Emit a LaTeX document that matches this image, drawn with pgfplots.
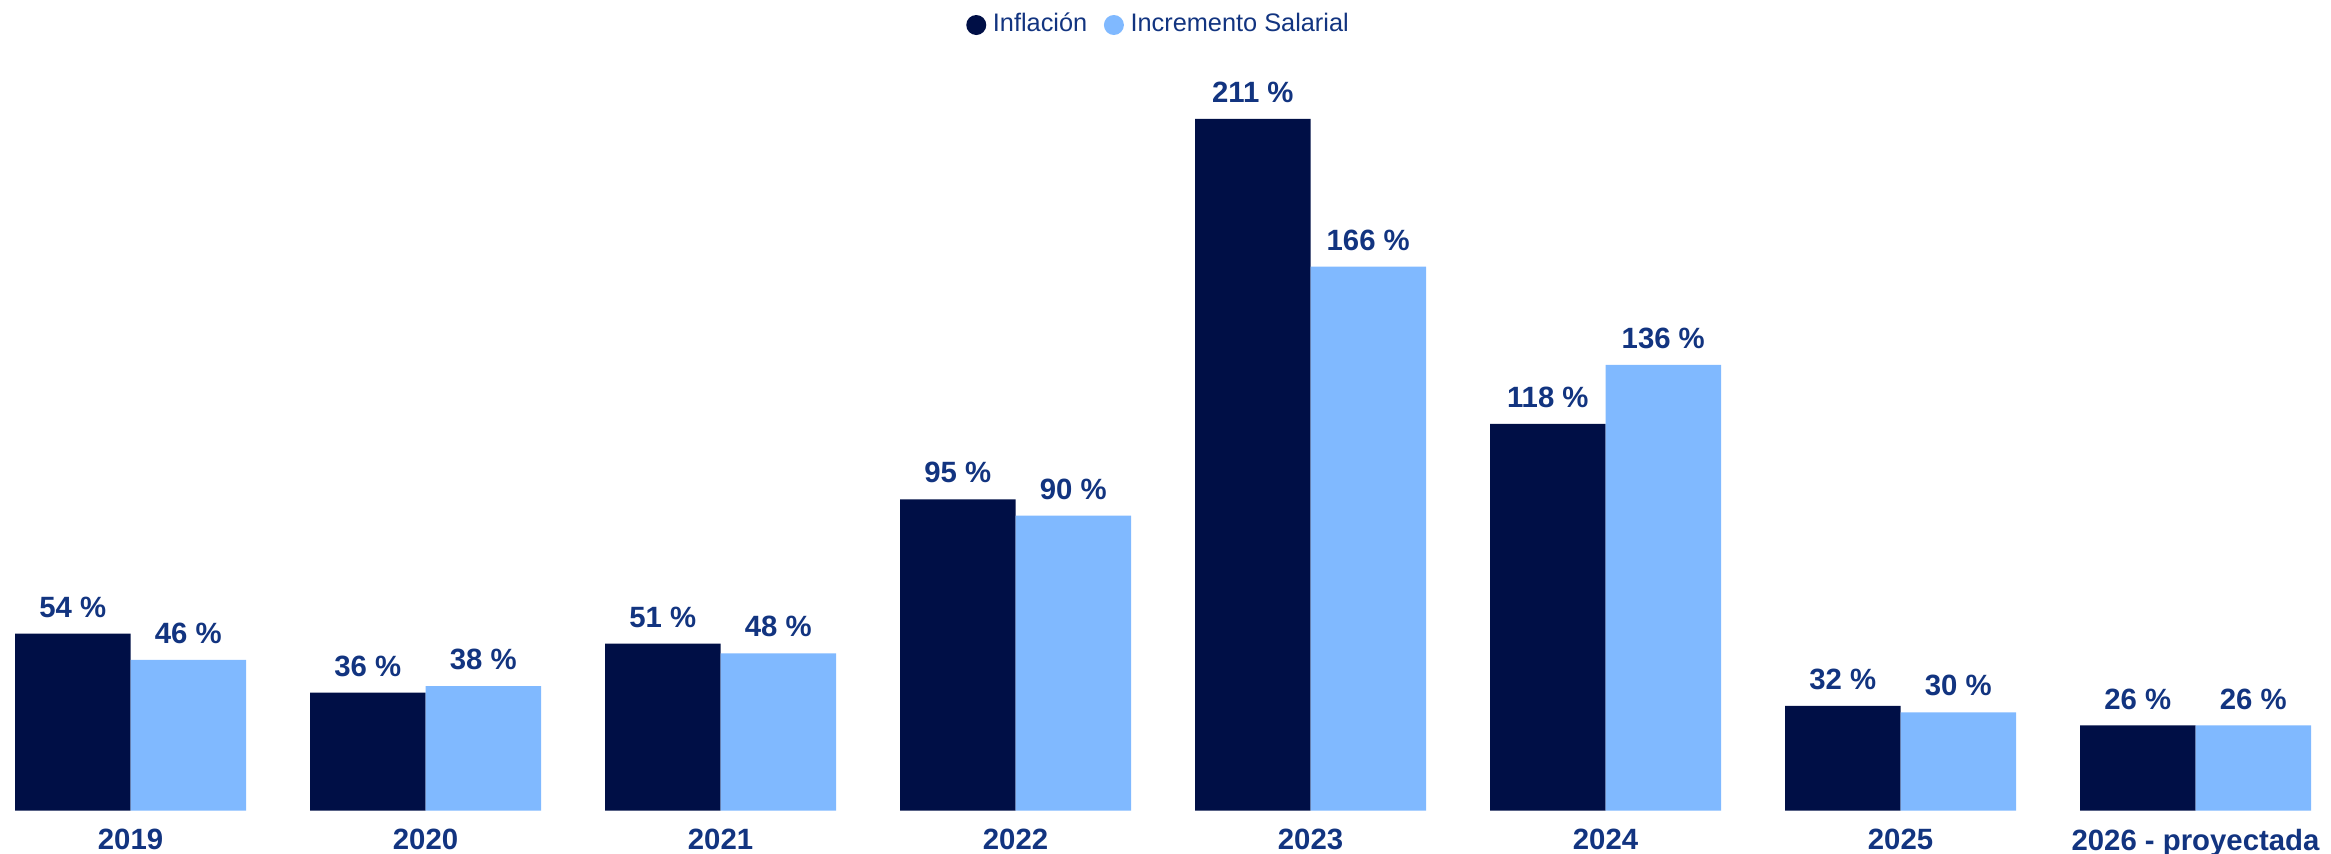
\documentclass[border=0pt]{standalone}
\usepackage{pgfplots}
\pgfplotsset{compat=1.18}
\usepackage{fontspec}
\setmainfont{Liberation Sans}
\definecolor{navy}{RGB}{0,15,70}
\definecolor{lblue}{RGB}{128,185,255}
\definecolor{txt}{RGB}{18,52,128}
\begin{document}
\begin{tikzpicture}
\begin{axis}[
  scale only axis,
  width=699.3bp, height=225.21bp,
  xmin=-0.4424, xmax=7.4593,
  ymin=0, ymax=229.0,
  ybar=0pt, bar width=0.3915,
  axis line style={draw=none},
  ytick=\empty,
  xtick={0,...,7},
  xticklabels={2019,2020,2021,2022,2023,2024,2025,2026 - proyectada},
  major tick length=0pt,
  xticklabel style={font=\fontsize{8.8bp}{10bp}\selectfont\bfseries, text=txt, yshift=-2bp},
  /pgf/number format/assume math mode=true,
  nodes near coords={\pgfmathprintnumber{\pgfplotspointmeta} \%},
  nodes near coords style={font=\fontsize{8.8bp}{10bp}\selectfont\bfseries, text=txt, anchor=south, yshift=1.3bp},
  clip=false,
  legend style={at={(0.498,1.0466)}, anchor=center, draw=none, fill=none,
    font=\fontsize{7.6bp}{9bp}\selectfont, text=txt, legend columns=2,
    /tikz/every even column/.append style={column sep=3bp}},
  legend image code/.code={\fill[#1] (0.45em,0) circle (3bp);},
]
\addplot[fill=navy, draw=none] coordinates {(0,54) (1,36) (2,51) (3,95) (4,211) (5,118) (6,32) (7,26)};
\addplot[fill=lblue, draw=none] coordinates {(0,46) (1,38) (2,48) (3,90) (4,166) (5,136) (6,30) (7,26)};
\legend{Inflación, Incremento Salarial}
\end{axis}
\pgfresetboundingbox
\useasboundingbox (0,-12.69bp) rectangle (699.3bp,243.21bp);
\end{tikzpicture}
\end{document}
